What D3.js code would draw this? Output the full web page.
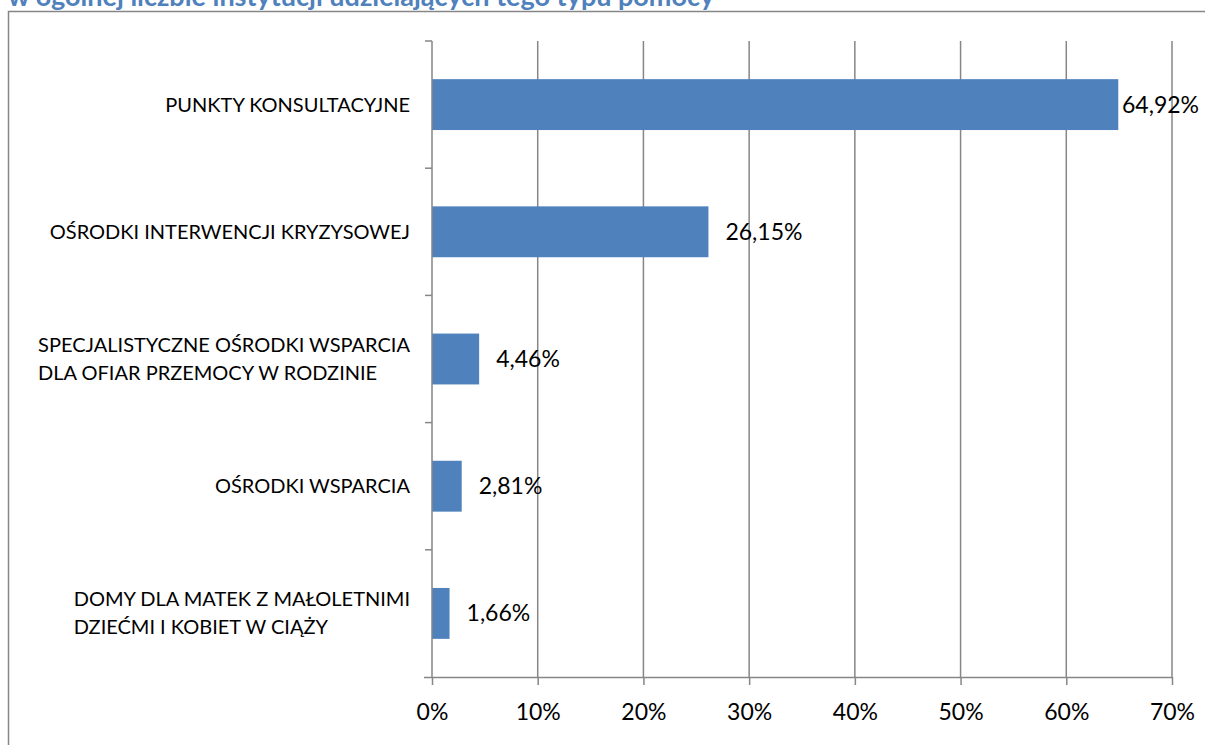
<!DOCTYPE html>
<html><head><meta charset="utf-8">
<script src="https://cdn.jsdelivr.net/npm/d3@7"></script>
<style>
html,body{margin:0;padding:0;background:#fff;overflow:hidden}
svg{display:block}
text{font-family:Lato,"Open Sans",sans-serif}
</style></head>
<body>
<svg id="c" width="1205" height="745"></svg>
<script>
const categories = [
  ["PUNKTY KONSULTACYJNE"],
  ["OŚRODKI INTERWENCJI KRYZYSOWEJ"],
  ["SPECJALISTYCZNE OŚRODKI WSPARCIA","DLA OFIAR PRZEMOCY W RODZINIE"],
  ["OŚRODKI WSPARCIA"],
  ["DOMY DLA MATEK Z MAŁOLETNIMI","DZIEĆMI I KOBIET W CIĄŻY"]
];
const values = [64.92, 26.15, 4.46, 2.81, 1.66];
const valueLabels = ["64,92%","26,15%","4,46%","2,81%","1,66%"];
const xTicks = [0,10,20,30,40,50,60,70];
const xTickLabels = ["0%","10%","20%","30%","40%","50%","60%","70%"];
const titleText = "w ogólnej liczbie instytucji udzielających tego typu pomocy";

const svg = d3.select("#c");
const L = 432, R = 1172, T = 41, B = 677;
const x = d3.scaleLinear().domain([0,70]).range([L,R]);
const y = d3.scaleBand().domain(d3.range(categories.length)).range([T,B]).paddingInner(0.6).paddingOuter(0.3);
const yb = d3.scaleBand().domain(d3.range(categories.length)).range([T,B]);

// title (clipped at top)
svg.append("text").attr("x",8).attr("y",5.5).attr("font-weight","bold")
  .attr("font-size",27).attr("fill","#4F81BD").text(titleText);

// frame
svg.append("rect").attr("x",8.5).attr("y",11.5).attr("width",1210).attr("height",760)
  .attr("fill","none").attr("stroke","#868686").attr("stroke-width",1.5);

// gridlines
svg.append("g").selectAll("line").data(xTicks.slice(1)).join("line")
  .attr("x1",d=>x(d)).attr("x2",d=>x(d)).attr("y1",T).attr("y2",B)
  .attr("stroke","#868686").attr("stroke-width",1.5);

// bars
svg.append("g").selectAll("rect").data(values).join("rect")
  .attr("x",x(0)).attr("y",(d,i)=>y(i)).attr("width",d=>x(d)-x(0)).attr("height",y.bandwidth())
  .attr("fill","#4F81BD");

// bottom axis
const xa = d3.axisBottom(x).tickValues(xTicks).tickFormat((d,i)=>xTickLabels[i]).tickSize(8).tickSizeOuter(0);
const gx = svg.append("g").attr("transform",`translate(0,${B})`).call(xa);
gx.select(".domain").attr("stroke","#868686").attr("stroke-width",1.5).attr("d",`M${L-8},0.5H${R}`);
gx.selectAll(".tick line").attr("stroke","#868686").attr("stroke-width",1.5);
gx.selectAll(".tick text").attr("font-size",23).attr("fill","#000").attr("dy","0").attr("y",43)
  .style("font-family","Lato,'Open Sans',sans-serif");

// left axis
svg.append("line").attr("x1",L).attr("x2",L).attr("y1",T).attr("y2",B).attr("stroke","#868686").attr("stroke-width",1.5);
svg.append("g").selectAll("line").data(d3.range(categories.length)).join("line")
  .attr("x1",L-7).attr("x2",L).attr("y1",d=>yb(d)).attr("y2",d=>yb(d))
  .attr("stroke","#868686").attr("stroke-width",1.5);

// category labels (multi-line blocks left-aligned, block right edge at 410)
const cl = svg.append("g").selectAll("text").data(categories).join("text")
  .attr("font-size",20).attr("fill","#000")
  .attr("y",(d,i)=>yb(i)+yb.bandwidth()/2);
cl.each(function(d){
  const t = d3.select(this);
  const n = d.length;
  const spans = d.map((s,j)=> t.append("tspan").attr("dy", j===0 ? (7 - (n-1)*14)+"" : "28").text(s));
  const w = d3.max(spans, s=>s.node().getComputedTextLength());
  spans.forEach(s=>s.attr("x",410-w));
});

// value labels
svg.append("g").selectAll("text").data(values).join("text")
  .attr("font-size",23).attr("fill","#000")
  .attr("y",(d,i)=>y(i)+y.bandwidth()/2+8)
  .text((d,i)=>valueLabels[i])
  .attr("x",function(d){ const w=this.getComputedTextLength(); return Math.min(x(d)+17, 1199-w); });
</script>
</body></html>
